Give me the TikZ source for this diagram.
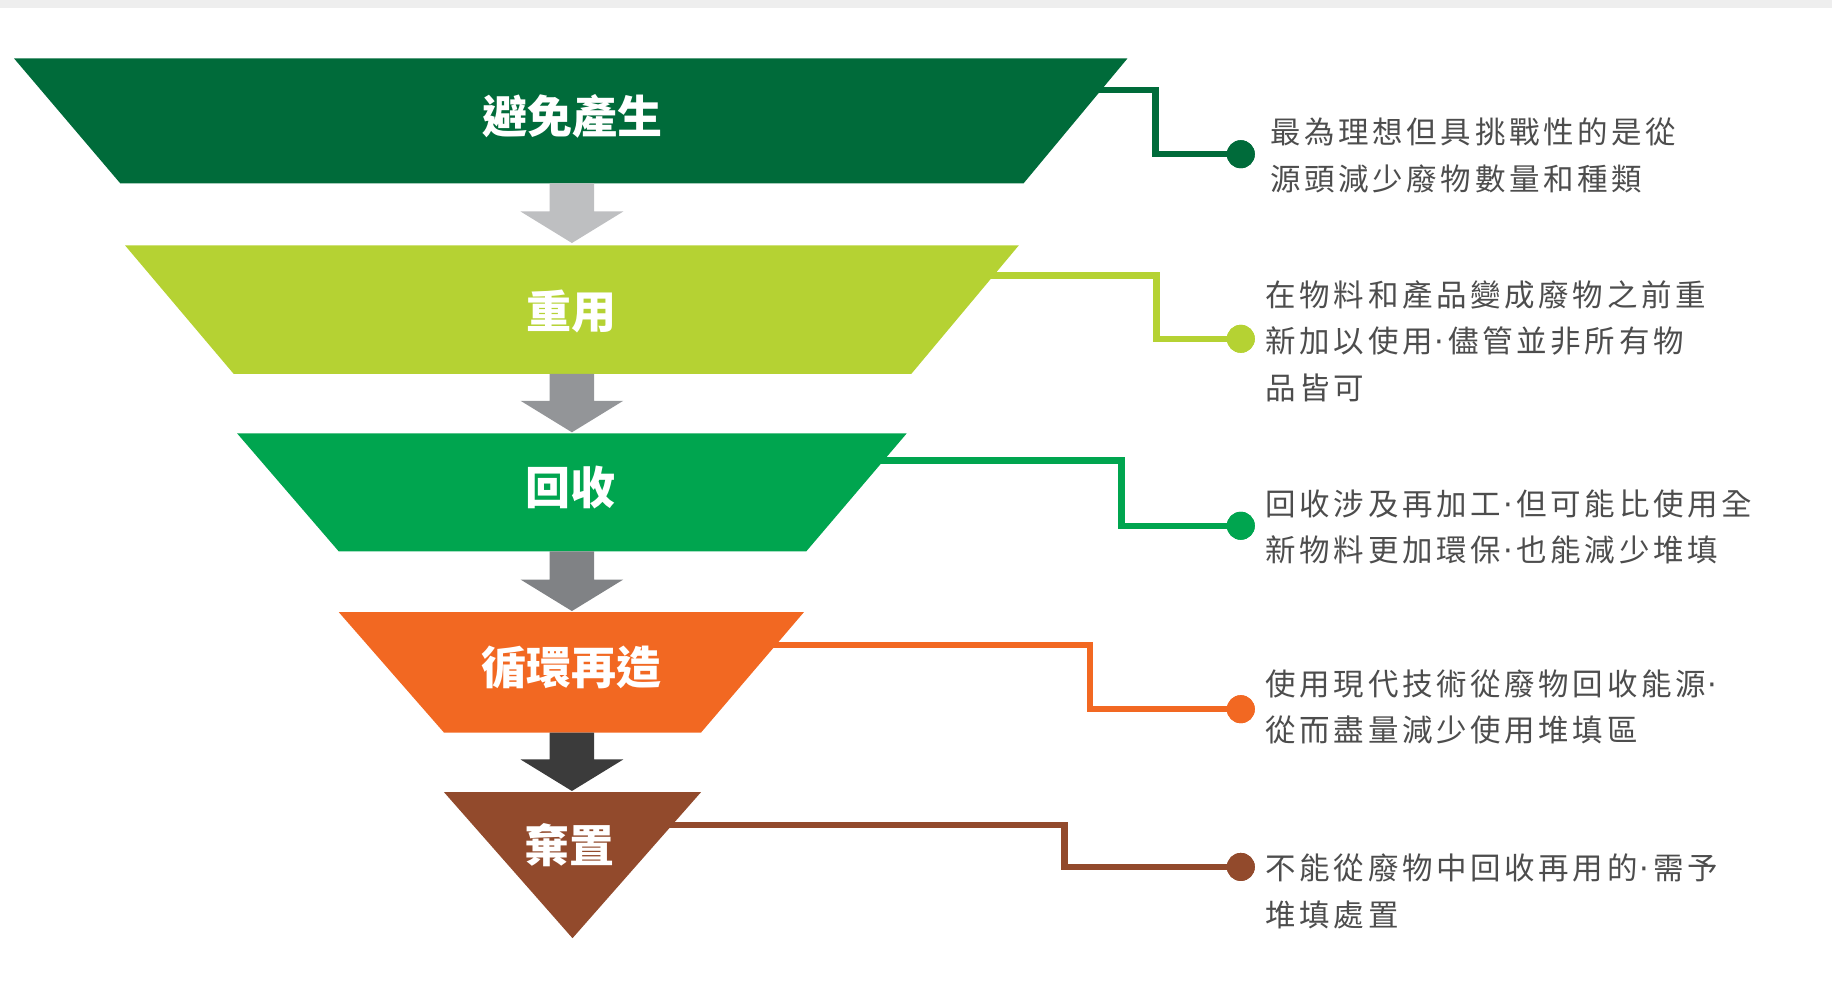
\documentclass[tikz,border=0pt]{standalone}
\usepackage{fontspec}
\newfontfamily\cjk{Noto Sans CJK TC}
\newfontfamily\cjkdesc{Noto Sans CJK TC}[LetterSpace=12]
\newfontfamily\dotfont{DejaVu Sans}
\newcommand\mdot{\hspace{2pt}{\dotfont ·}\hspace{4pt}}
\usetikzlibrary{calc}
\definecolor{cA}{HTML}{006B3A}
\definecolor{cB}{HTML}{B5D233}
\definecolor{cC}{HTML}{00A54F}
\definecolor{cD}{HTML}{F26822}
\definecolor{cE}{HTML}{924A2C}
\definecolor{aA}{HTML}{BEBFC1}
\definecolor{aB}{HTML}{939598}
\definecolor{aC}{HTML}{808285}
\definecolor{aD}{HTML}{3B3B3B}
\definecolor{txtgray}{HTML}{4D4D4D}
\definecolor{bandgray}{HTML}{EEEEEE}
\begin{document}
\begin{tikzpicture}[x=1.1684pt,y=-1.1684pt,
  title/.style={text=white,font=\cjk\bfseries\fontsize{45}{50}\selectfont,inner sep=0pt},
  desc/.style={text=txtgray,font=\cjkdesc\fontsize{30.5}{46.7}\selectfont,align=left,anchor=west,inner sep=0pt},
  dot/.style={circle,inner sep=0pt,minimum size=28pt},
  conn/.style={line width=6.5pt}
]
\useasboundingbox (0,0) rectangle (1568,842);
\fill[bandgray] (0,0) rectangle (1568,7);

% connectors (drawn first, start inside the shapes)
\coordinate (e1) at (935,77);  \coordinate (k1) at (989,132);
\coordinate (e2) at (840,236); \coordinate (k2) at (990,290);
\coordinate (e3) at (745,394); \coordinate (k3) at (960,450);
\coordinate (e4) at (655,552); \coordinate (k4) at (933,607);
\coordinate (e5) at (565,706); \coordinate (k5) at (911,742);
\node[dot,fill=cA] (d1) at (1062,132) {};
\node[dot,fill=cB] (d2) at (1062,290) {};
\node[dot,fill=cC] (d3) at (1062,450) {};
\node[dot,fill=cD] (d4) at (1062,607) {};
\node[dot,fill=cE] (d5) at (1062,742) {};
\draw[conn,cA] (e1) -| (k1) -- (d1.center);
\draw[conn,cB] (e2) -| (k2) -- (d2.center);
\draw[conn,cC] (e3) -| (k3) -- (d3.center);
\draw[conn,cD] (e4) -| (k4) -- (d4.center);
\draw[conn,cE] (e5) -| (k5) -- (d5.center);
\node[dot,fill=cA] at (d1) {};
\node[dot,fill=cB] at (d2) {};
\node[dot,fill=cC] at (d3) {};
\node[dot,fill=cD] at (d4) {};
\node[dot,fill=cE] at (d5) {};

% funnel layers
\fill[cA] (12,50) -- (965,50) -- (876,157) -- (103,157) -- cycle;
\fill[cB] (107,210) -- (872,210) -- (780,320) -- (200,320) -- cycle;
\fill[cC] (203,371) -- (776,371) -- (690,472) -- (290,472) -- cycle;
\fill[cD] (290,524) -- (688,524) -- (600,627) -- (380,627) -- cycle;
\fill[cE] (380,678) -- (600,678) -- (490,803) -- cycle;

% arrows between layers
\foreach \ya/\yb/\col in {157/208/aA, 320/370/aB, 472/523/aC, 627/677/aD}{
  \fill[\col] (470.5,\ya) -- (508.5,\ya) -- (508.5,\yb-27) -- (533.5,\yb-27)
     -- (489.5,\yb) -- (445.5,\yb-27) -- (470.5,\yb-27) -- cycle;
}

% titles
\node[title] (t1) at (490,100) {避免產生};
\node[title] (t2) at (489,267) {重用};
\node[title] (t3) at (488,417) {回收};
\node[title] (t4) at (489,571) {循環再造};
\node[title] (t5) at (487,723) {棄置};

% descriptions
\node[desc] (x1) at (1087,133) {最為理想但具挑戰性的是從\\源頭減少廢物數量和種類};
\node[desc] (x2) at (1083,292) {在物料和產品變成廢物之前重\\新加以使用\mdot 儘管並非所有物\\品皆可};
\node[desc] (x3) at (1083,451) {回收涉及再加工\mdot 但可能比使用全\\新物料更加環保\mdot 也能減少堆填};
\node[desc] (x4) at (1083,605) {使用現代技術從廢物回收能源\mdot\\從而盡量減少使用堆填區};
\node[desc] (x5) at (1083,763) {不能從廢物中回收再用的\mdot 需予\\堆填處置};
\end{tikzpicture}
\end{document}
